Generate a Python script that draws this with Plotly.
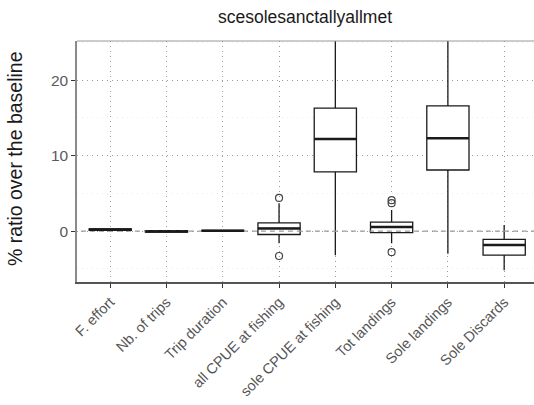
import plotly.graph_objects as go

# Scenario indicators and their box statistics (% ratio over the baseline)
categories = ["F. effort", "Nb. of trips", "Trip duration", "all CPUE at fishing",
              "sole CPUE at fishing", "Tot landings", "Sole landings", "Sole Discards"]
q1 = [0.1, -0.15, -0.05, -0.45, 7.85, -0.2, 8.1, -3.2]
median = [0.2, -0.05, 0.05, 0.35, 12.2, 0.55, 12.3, -1.85]
q3 = [0.3, 0.05, 0.1, 1.1, 16.3, 1.2, 16.6, -1.1]
lowerfence = [0.1, -0.15, -0.05, -1.6, -3.2, -1.6, -3.0, -5.2]
upperfence = [0.3, 0.05, 0.1, 3.7, 30.0, 2.8, 30.0, 0.8]

# Outlying replicates, grouped by indicator
outlier_cat = [3, 3, 5, 5, 5]
outlier_val = [4.4, -3.3, 4.1, 3.7, -2.8]

y_ticks = [0, 10, 20]
title_text = "scesolesanctallyallmet"
y_title = "% ratio over the baseline"

box_w = 0.75
idx = list(range(len(categories)))

fig = go.Figure()

# Dashed reference line at zero
fig.add_trace(go.Scatter(x=[-1, len(categories) + 1], y=[0, 0], mode="lines",
                         line=dict(color="#9a9a9a", width=1.2, dash="5px,4px"),
                         hoverinfo="skip", showlegend=False))

fig.add_trace(go.Box(
    x=idx, q1=q1, median=median, q3=q3,
    lowerfence=lowerfence, upperfence=upperfence,
    width=box_w, fillcolor="white",
    line=dict(color="#1a1a1a", width=1.3),
    boxpoints=False, whiskerwidth=0, showlegend=False,
))

# Thicker median bars
for i, m in zip(idx, median):
    fig.add_trace(go.Scatter(x=[i - box_w / 2, i + box_w / 2], y=[m, m], mode="lines",
                             line=dict(color="#1a1a1a", width=2.6),
                             hoverinfo="skip", showlegend=False))

fig.add_trace(go.Scatter(x=outlier_cat, y=outlier_val, mode="markers",
                         marker=dict(symbol="circle-open", size=7,
                                     color="#444444", line=dict(width=1.2)),
                         showlegend=False))

font_family = "Liberation Sans, Arial, sans-serif"

fig.update_layout(
    width=534, height=405,
    margin=dict(l=77, r=0, t=41, b=123),
    paper_bgcolor="white", plot_bgcolor="white",
    font=dict(family=font_family, color="#4d4d4d"),
    title=dict(text=title_text, x=305 / 534, xanchor="center",
               y=1 - 17 / 405, yanchor="middle",
               font=dict(size=17.5, color="#1a1a1a", family=font_family)),
    annotations=[dict(text=y_title, textangle=-90, xref="paper", yref="paper",
                      x=-62 / 457, y=0.51, xanchor="center", yanchor="middle",
                      showarrow=False,
                      font=dict(size=19.5, color="#1a1a1a", family=font_family))],
)

fig.update_xaxes(
    range=[-0.59, 7.53], tickvals=idx, ticktext=categories, tickangle=-45,
    tickfont=dict(size=14.5, color="#555555"),
    ticks="outside", ticklen=4, tickwidth=1.2, tickcolor="#333333",
    showgrid=True, gridcolor="#9a9a9a", griddash="1px,4px", gridwidth=1.2,
    showline=True, linecolor="#555555", linewidth=2, mirror=False,
    zeroline=False,
)
fig.update_yaxes(
    range=[-6.75, 25.2], tickvals=y_ticks,
    tickfont=dict(size=15.5, color="#5a5a5a"),
    ticks="outside", ticklen=4, tickwidth=1.2, tickcolor="#333333",
    showgrid=True, gridcolor="#9a9a9a", griddash="1px,4px", gridwidth=1.2,
    minor=dict(tickvals=[-5, 5, 15, 25], showgrid=True, gridcolor="#ececec",
               gridwidth=1, ticks=""),
    showline=True, linecolor="#8a8a8a", linewidth=1.5, mirror=False,
    zeroline=False,
)

# Top border of the panel
fig.add_shape(type="line", xref="paper", yref="paper", x0=0, x1=1, y0=1, y1=1,
              line=dict(color="#9a9a9a", width=1.2))

fig.write_html("out.html")
